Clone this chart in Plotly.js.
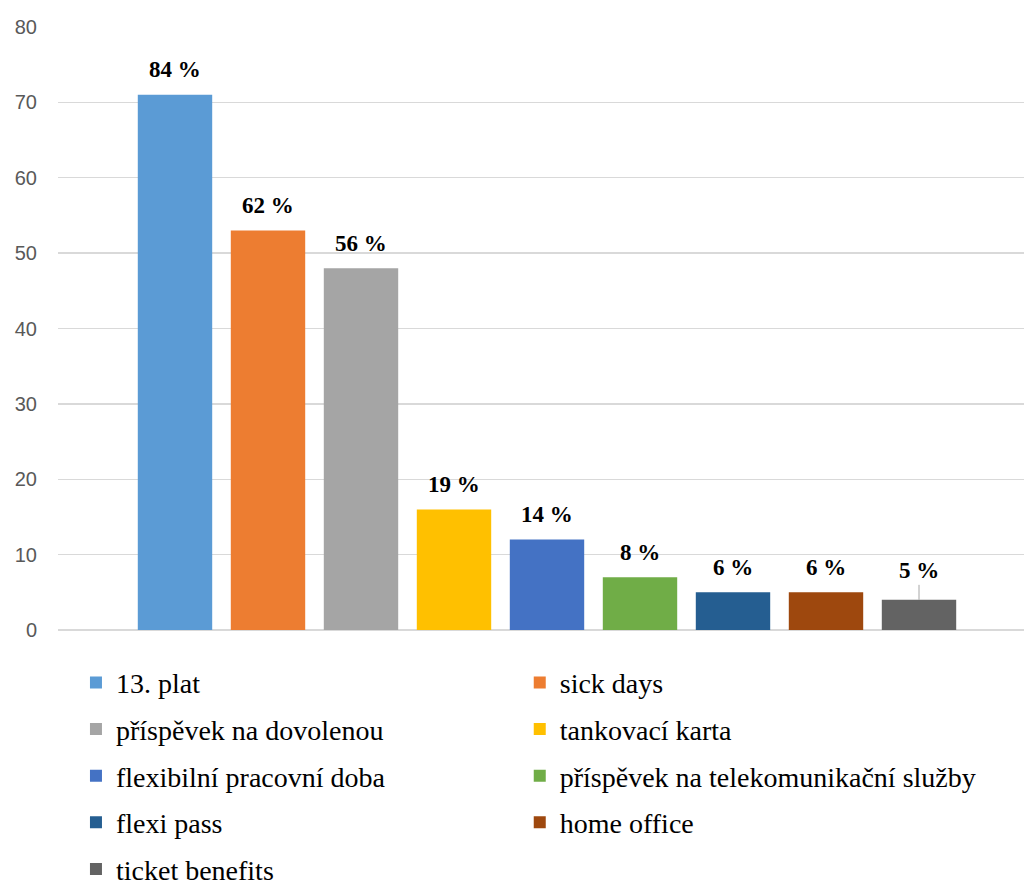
<!DOCTYPE html>
<html>
<head>
<meta charset="utf-8">
<script src="https://cdn.plot.ly/plotly-3.0.1.min.js"></script>
<style>html,body{margin:0;padding:0;background:#fff;}#chart{width:1024px;height:882px;}</style>
</head>
<body>
<div id="chart"></div>
<script>
const categories = ["13. plat", "sick days", "příspěvek na dovolenou", "tankovací karta", "flexibilní pracovní doba", "příspěvek na telekomunikační služby", "flexi pass", "home office", "ticket benefits"];
const values = [71, 53, 48, 16, 12, 7, 5, 5, 4];
const percentLabels = ["84 %", "62 %", "56 %", "19 %", "14 %", "8 %", "6 %", "6 %", "5 %"];
const colors = ["#5B9BD5", "#ED7D31", "#A5A5A5", "#FFC000", "#4472C4", "#70AD47", "#255E91", "#9E480E", "#636363"];
const yTicks = [0, 10, 20, 30, 40, 50, 60, 70, 80];

const SERIF = 'Liberation Serif, Times New Roman, serif';

const traces = categories.map((c, i) => ({
  type: 'bar',
  name: c,
  x: [c],
  y: [values[i]],
  width: 0.8,
  marker: {color: colors[i]},
  legend: (i % 2 === 0) ? 'legend' : 'legend2',
  legendgroup: 'g' + i,
  hoverinfo: 'skip'
}));

const annotations = categories.map((c, i) => {
  const last = i === categories.length - 1;
  const a = {
    x: c, y: values[i], xref: 'x', yref: 'y',
    text: '<b>' + percentLabels[i] + '</b>',
    font: {family: SERIF, size: 23, color: '#000'},
    showarrow: false,
    yanchor: 'middle',
    yshift: 25
  };
  if (last) {
    a.showarrow = true;
    a.arrowhead = 0;
    a.arrowwidth = 1;
    a.arrowcolor = '#A6A6A6';
    a.ax = 0;
    a.ay = -29;
    a.yshift = 0;
    delete a.yanchor;
  }
  return a;
});

const legendFont = {family: SERIF, size: 28, color: '#000'};

const layout = {
  width: 1024, height: 882,
  margin: {l: 58, r: 0, t: 27, b: 252},
  paper_bgcolor: '#fff', plot_bgcolor: '#fff',
  barmode: 'overlay',
  showlegend: true,
  font: {family: SERIF},
  xaxis: {
    type: 'category',
    categoryarray: categories,
    range: [-1.258, 9.129],
    showticklabels: false,
    showgrid: false,
    zeroline: false,
    showline: false,
    ticks: ''
  },
  yaxis: {
    range: [0, 80],
    tickvals: yTicks,
    showgrid: true,
    gridcolor: '#D9D9D9',
    gridwidth: 1.3,
    zeroline: true,
    zerolinecolor: '#D9D9D9',
    zerolinewidth: 1.3,
    showline: false,
    ticks: '',
    ticklabelstandoff: 20,
    tickfont: {family: 'Liberation Sans, Arial, sans-serif', size: 20, color: '#595959'}
  },
  legend: {
    orientation: 'v',
    x: 0.0186, xanchor: 'left',
    yref: 'container',
    y: 0.2542, yanchor: 'top',
    font: legendFont,
    tracegroupgap: 7.2,
    bgcolor: 'rgba(0,0,0,0)'
  },
  legend2: {
    orientation: 'v',
    x: 0.478, xanchor: 'left',
    yref: 'container',
    y: 0.2542, yanchor: 'top',
    font: legendFont,
    tracegroupgap: 7.2,
    bgcolor: 'rgba(0,0,0,0)'
  },
  annotations: annotations
};

Plotly.newPlot('chart', traces, layout, {displayModeBar: false, staticPlot: true});
</script>
</body>
</html>
